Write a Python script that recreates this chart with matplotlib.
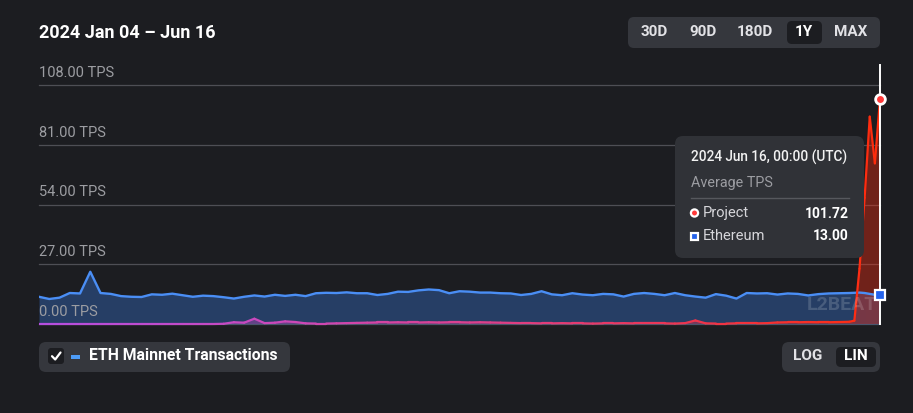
import numpy as np
import pandas as pd
import matplotlib
matplotlib.use('Agg')
import matplotlib.pyplot as plt
import matplotlib.dates as mdates
from matplotlib.transforms import Affine2D
from matplotlib.patches import FancyBboxPatch, Rectangle, Circle
from matplotlib.collections import LineCollection
from matplotlib.colors import LinearSegmentedColormap
from matplotlib.lines import Line2D

# ---------------- data ----------------
dates = list(pd.date_range('2024-01-04', '2024-06-10', freq='2D')) + \
        list(pd.date_range('2024-06-11', '2024-06-16', freq='D'))

ethereum_tps = [
    12.3, 11.3, 11.9, 14.0, 13.8, 23.6, 14.0, 13.6, 12.6, 12.3,
    12.2, 13.4, 13.2, 13.7, 13.0, 12.3, 12.8, 12.6, 12.1, 11.5,
    12.3, 12.9, 12.4, 13.2, 12.7, 13.2, 12.6, 13.9, 14.1, 14.0,
    14.3, 13.9, 13.9, 13.1, 13.6, 14.6, 14.5, 15.2, 15.6, 15.3,
    13.9, 14.8, 14.6, 14.2, 14.2, 13.9, 13.8, 13.1, 13.6, 14.8,
    13.4, 13.0, 13.9, 13.3, 13.0, 13.6, 13.4, 12.4, 13.6, 14.0,
    13.6, 13.0, 14.0, 13.0, 12.4, 11.9, 13.5, 12.8, 11.5, 14.0,
    13.8, 13.9, 13.3, 13.8, 13.6, 12.9, 13.5, 13.8, 13.9, 14.0,
    14.1, 14.2, 14.0, 13.6, 13.2, 13.00,
]

project_tps = [
    0.0, 0.0, 0.0, 0.0, 0.0, 0.0, 0.0, 0.0, 0.0, 0.0,
    0.0, 0.0, 0.0, 0.0, 0.0, 0.0, 0.0, 0.0,
    0.1, 0.8, 0.6, 2.4, 0.4, 0.6, 1.2, 0.9, 0.3, 0.2,
    0.2, 0.3, 0.4, 0.5, 0.6, 0.7, 0.7, 0.8, 0.7, 0.7,
    0.8, 0.7, 0.8, 0.8, 0.7, 0.8, 0.7, 0.6, 0.5, 0.4,
    0.4, 0.3, 0.3, 0.4, 0.3, 0.3, 0.2, 0.3, 0.3, 0.4,
    0.3, 0.3, 0.3, 0.3, 0.2, 0.4, 1.6, 0.3, 0.2, 0.2,
    0.3, 0.3, 0.3, 0.4, 0.7, 0.8, 0.8, 0.9, 0.8, 0.8,
    0.9, 1.0,
    1.5, 25.0, 57.0, 93.7, 72.6, 101.72,
]

y_ticks = [0, 27, 54, 81, 108]
y_tick_labels = ['0.00 TPS', '27.00 TPS', '54.00 TPS', '81.00 TPS', '108.00 TPS']
title = '2024 Jan 04 – Jun 16'
range_buttons = ['30D', '90D', '180D', '1Y', 'MAX']
scale_buttons = ['LOG', 'LIN']

# ---------------- figure ----------------
W, H = 913, 413
BG = '#1c1d21'
PANEL = '#35373d'
FONT = 'Roboto'
plt.rcParams['font.family'] = [FONT, 'DejaVu Sans']

fig = plt.figure(figsize=(W / 100, H / 100), dpi=100, facecolor=BG)
T = Affine2D().scale(1, -1).translate(0, H)  # top-left pixel coordinates

def rbox(x0, y0, x1, y1, color, r):
    p = FancyBboxPatch((x0, y0), x1 - x0, y1 - y0,
                       boxstyle=f'round,pad=0,rounding_size={r}',
                       transform=T, facecolor=color, edgecolor='none')
    fig.add_artist(p)
    return p

def ftext(x, y, s, **kw):
    kw.setdefault('va', 'center')
    kw.setdefault('family', [FONT, 'DejaVu Sans'])
    return fig.text(x, y, s, transform=T, **kw)

# plot axes (pixel 39..880, 0 at y=324, 108 at y=85)
px_per = (324 - 85) / 108.0
ax_top, ax_bot = 60, 327
ax = fig.add_axes([39 / W, (H - ax_bot) / H, (880 - 39) / W, (ax_bot - ax_top) / H])
ax.set_facecolor('none')
ax.axis('off')

x = mdates.date2num(dates)
eth = np.array(ethereum_tps)
proj = np.array(project_tps)
x0, x1 = x[0], x[-1]
ylo = -(ax_bot - 324) / px_per
yhi = (324 - ax_top) / px_per

for v in y_ticks:
    ax.plot([x0, x1], [v, v], color='#4e4f55', lw=0.9, zorder=0, clip_on=False)

# ethereum area
ax.fill_between(x, eth, 0, color='#3a7be0', alpha=0.36, lw=0, zorder=1)

# project gradient area + line
cmap = LinearSegmentedColormap.from_list(
    'proj', [(0.0, '#b54fe0'), (0.3, '#cc48b8'), (0.55, '#de3f86'),
             (0.8, '#ef3448'), (1.0, '#ff2c0c')])
poly = ax.fill_between(x, proj, 0, facecolor='none', lw=0)
grad = np.linspace(0, 1, 600).reshape(1, -1)
im = ax.imshow(grad, cmap=cmap, aspect='auto', extent=[x0, x1, 0, 110],
               alpha=0.38, origin='lower', zorder=2, interpolation='bilinear')
im.set_clip_path(poly.get_paths()[0], transform=ax.transData)

ax.plot(x, eth, color='#4a8ef5', lw=1.7, zorder=3, solid_joinstyle='round')

pts = np.column_stack([x, proj]).reshape(-1, 1, 2)
segs = np.concatenate([pts[:-1], pts[1:]], axis=1)
mids = ((x[:-1] + x[1:]) / 2 - x0) / (x1 - x0)
lc = LineCollection(segs, colors=cmap(mids), linewidths=1.6, zorder=4,
                    capstyle='round', joinstyle='round')
ax.add_collection(lc)

ax.set_xlim(x0, x1)
ax.set_ylim(ylo, yhi)

# hover line and markers
ax.plot([x1, x1], [0, (324 - 65) / px_per], color='white', lw=1.4, zorder=5, clip_on=False)
ax.plot([x1], [proj[-1]], 'o', ms=7, mfc='#ff3a3a', mec='white', mew=2, zorder=6, clip_on=False)
ax.plot([x1], [eth[-1]], 's', ms=6.5, mfc='#2563eb', mec='white', mew=1.6, zorder=6, clip_on=False)

# watermark
ftext(842, 305, 'L2BEAT', ha='center', fontsize=14, fontweight='bold',
      color='white', alpha=0.16, zorder=10)

# y labels
for v, lab in zip(y_ticks, y_tick_labels):
    ypx = 324 - v * px_per
    ftext(39, ypx - 12, lab, ha='left', fontsize=10.5, color='#9c9da2')

# title
ftext(39, 33, title, ha='left', fontsize=13, fontweight='bold', color='white')

# range buttons
rbox(628, 17, 880, 48, PANEL, 6)
rbox(787, 21, 822, 44, BG, 5)
for lab, cx in zip(range_buttons, [654, 703, 755, 804, 851]):
    ftext(cx, 32.5, lab, ha='center', fontsize=11, fontweight='bold',
          color='white' if lab == '1Y' else '#e2e2e6')

# tooltip
rbox(675, 136, 864, 258, '#303237', 8)
ftext(691, 157, '2024 Jun 16, 00:00 (UTC)', ha='left', fontsize=9.8,
      fontweight='medium', color='#f2f2f2')
ftext(691, 183, 'Average TPS', ha='left', fontsize=10.4, color='#9c9da2')
fig.add_artist(Line2D([691, 849], [198, 198], transform=T, color='#56585d', lw=1))
fig.add_artist(Circle((694.5, 213), 3.6, transform=T, facecolor='#ff3a3a',
                      edgecolor='white', lw=1.6))
ftext(703, 213.5, 'Project', ha='left', fontsize=10.5, color='#d6d6da')
ftext(849, 213.5, '101.72', ha='right', fontsize=10, fontweight='bold', color='white')
fig.add_artist(Rectangle((691, 232.5), 7, 7, transform=T, facecolor='#2563eb',
                         edgecolor='white', lw=1.6))
ftext(703, 236.5, 'Ethereum', ha='left', fontsize=10.5, color='#d6d6da')
ftext(849, 236.5, '13.00', ha='right', fontsize=10, fontweight='bold', color='white')

# legend
rbox(39, 342, 290, 372, PANEL, 7)
rbox(48, 348, 64, 364, BG, 3)
fig.add_artist(Line2D([52, 55.2, 60.5], [356.2, 359.5, 352.5], transform=T,
                      color='white', lw=1.6, solid_capstyle='round', solid_joinstyle='round'))
fig.add_artist(Rectangle((71, 354.5), 9, 4, transform=T, facecolor='#4d9cf7', edgecolor='none'))
ftext(89, 356, 'ETH Mainnet Transactions', ha='left', fontsize=11.3,
      fontweight='bold', color='white')

# log / lin
rbox(782, 342, 880, 372, PANEL, 7)
rbox(836, 347, 876, 367, BG, 5)
ftext(808, 356.5, 'LOG', ha='center', fontsize=11, fontweight='bold', color='#e2e2e6')
ftext(856, 356.5, 'LIN', ha='center', fontsize=11, fontweight='bold', color='white')

fig.savefig('out.png', dpi=100, facecolor=BG)
